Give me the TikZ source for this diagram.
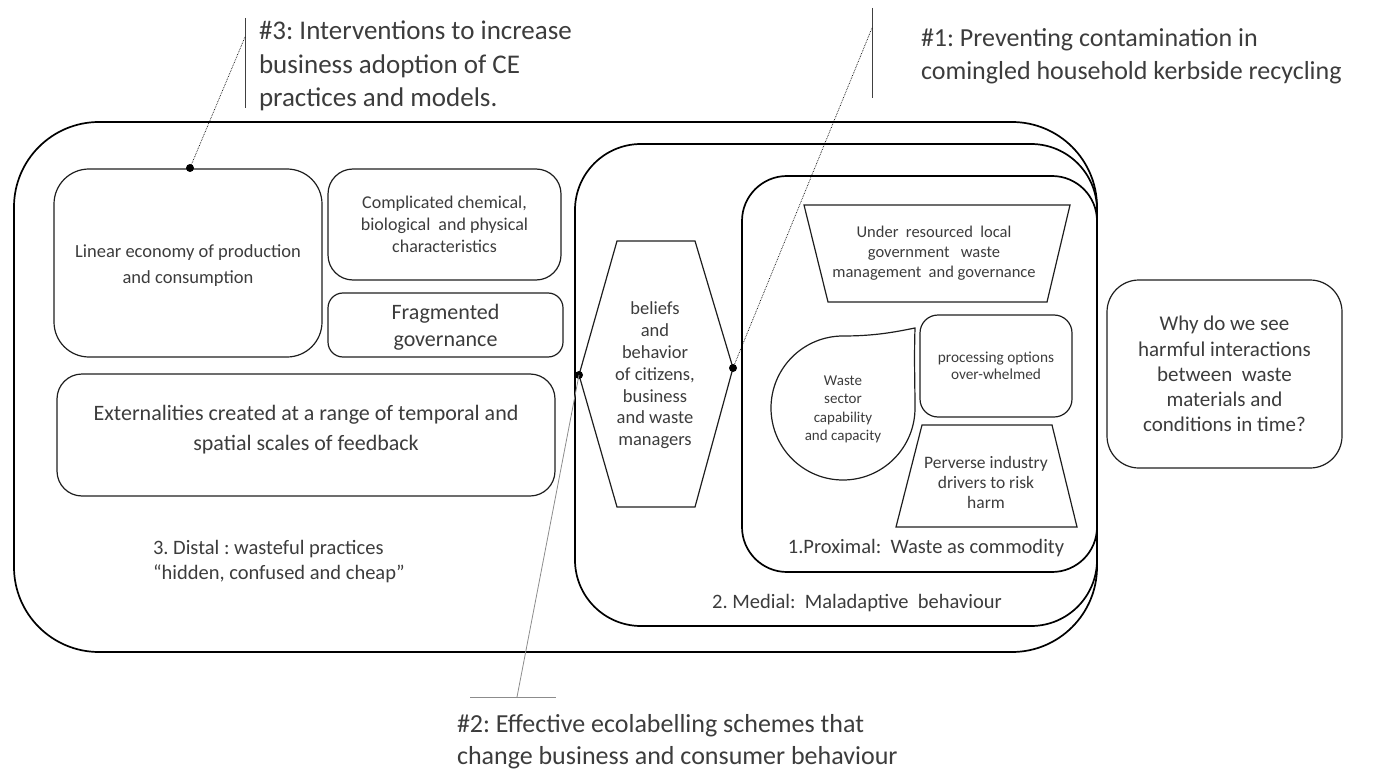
\documentclass[tikz,border=0pt]{standalone}
\usepackage{fontspec}
\setmainfont{Carlito}
\frenchspacing
\definecolor{txt}{RGB}{60,60,60}
\definecolor{edge}{RGB}{30,30,30}
\begin{document}
\begin{tikzpicture}[x=1pt,y=-1pt,
  every node/.style={text=txt, align=center, inner sep=0pt, outer sep=0pt},
  cont/.style={draw=black, line width=1.7pt},
  box/.style={draw=edge, line width=1.2pt},
  shapeline/.style={draw=edge, line width=1.2pt, line join=miter},
  dotm/.style={fill=black, circle, minimum size=8pt, inner sep=0pt},
  leadv/.style={draw=black!75, line width=1pt},
  leaddot/.style={draw=black, line width=0.7pt, densely dotted},
  leadgray/.style={draw=black!45, line width=0.8pt},
]
\useasboundingbox (0,0) rectangle (1378,778);

% containers
\node[cont, rounded corners=85pt, minimum width=1083pt, minimum height=530pt] (distal) at (555.5,387) {};
\node[cont, rounded corners=66pt, minimum width=522pt, minimum height=482pt] (medial) at (836,385) {};
\node[cont, rounded corners=45pt, minimum width=355pt, minimum height=396pt] (proximal) at (919.5,374) {};

% distal inner boxes
\node[box, rounded corners=35pt, minimum width=268pt, minimum height=188pt] (linear) at (188,263) {};
\node[font=\fontsize{18.5}{26}\selectfont] (lineart) at (188,266)
      {Linear economy of production\\and consumption};
\node[box, rounded corners=25pt, minimum width=233pt, minimum height=111pt,
      font=\fontsize{18}{22}\selectfont] (chem) at (444.5,224.5)
      {Complicated chemical,\\biological~ and physical\\characteristics};
\node[box, rounded corners=15pt, minimum width=235pt, minimum height=64pt] (frag) at (445.5,325) {};
\node[font=\fontsize{22}{27}\selectfont] (fragt) at (445.5,327)
      {Fragmented\\governance};
\node[box, rounded corners=25pt, minimum width=498pt, minimum height=122pt] (ext) at (306,435) {};
\node[font=\fontsize{22}{30}\selectfont] (extt) at (306,429.5)
      {Externalities created at a range of temporal and\\spatial scales of feedback};
\node[anchor=west, align=left, font=\fontsize{20.5}{25}\selectfont] (distlbl) at (153,561.5)
      {3. Distal : wasteful practices\\“hidden, confused and cheap”};

% medial hexagon
\coordinate (hexL) at (579,375);
\coordinate (hexR) at (733,368);
\draw[shapeline] (617,241) -- (695,241) -- (hexR) -- (695,507) -- (617,507) -- (hexL) -- cycle;
\node[font=\fontsize{18.5}{21.8}\selectfont] (beliefs) at (655,375.5)
      {beliefs\\and\\behavior\\of citizens,\\business\\and waste\\managers};
\node[font=\fontsize{20.5}{23}\selectfont] (medlbl) at (857,603) {2. Medial:~ Maladaptive~ behaviour};

% proximal contents
\draw[shapeline] (804,205) -- (1070,205) -- (1047,302) -- (828,302) -- cycle;
\node[font=\fontsize{16.5}{20}\selectfont] (under) at (934,253)
      {Under~ resourced~ local\\government~~ waste\\management~ and governance};
\draw[shapeline] (843,336) .. controls (875,336) and (895,332) .. (915,328)
      .. controls (914,360) and (915,385) .. (915,408)
      arc[start angle=0, end angle=-270, radius=72pt] -- cycle;
\node[font=\fontsize{15}{18.3}\selectfont] (wastes) at (843,409.5)
      {Waste\\sector\\capability\\and capacity};
\node[box, rounded corners=18pt, minimum width=152pt, minimum height=102pt,
      font=\fontsize{15.3}{17}\selectfont] (proc) at (996,366)
      {processing options\\over-whelmed};
\draw[shapeline] (922,425) -- (1052,425) -- (1077,527) -- (896,527) -- cycle;
\node[font=\fontsize{17.5}{20}\selectfont] (perverse) at (986,482)
      {Perverse industry\\drivers to risk\\harm};
\node[font=\fontsize{20.5}{23}\selectfont] (proxlbl) at (926,548) {1.Proximal:~ Waste as commodity};

% question box
\node[box, rounded corners=32pt, minimum width=235pt, minimum height=188pt,
      font=\fontsize{21}{25.2}\selectfont] (why) at (1224.5,374)
      {Why do we see\\harmful interactions\\between~ waste\\materials and\\conditions in time?};

% callouts
\node[anchor=west, align=left, font=\fontsize{27}{33.5}\selectfont] (c3) at (259,66)
      {\#3: Interventions to increase\\business adoption of CE\\practices and models.};
\node[anchor=west, align=left, font=\fontsize{26}{33.5}\selectfont] (c1) at (921,56)
      {\#1: Preventing contamination in\\comingled household kerbside recycling};
\node[anchor=west, align=left, font=\fontsize{26}{32}\selectfont] (c2) at (457,742)
      {\#2: Effective ecolabelling schemes that\\change business and consumer behaviour};

% leader lines
\coordinate (v3t) at (245,18); \coordinate (v3b) at (245,108); \coordinate (v3m) at (245,37);
\coordinate (v1t) at (872,8);  \coordinate (v1b) at (872,98);  \coordinate (v1m) at (872,28);
\coordinate (h2l) at (470,697); \coordinate (h2r) at (556,697); \coordinate (h2m) at (517,697);
\draw[leadv] (v3t) -- (v3b);
\draw[leadv] (v1t) -- (v1b);
\draw[leadgray] (h2l) -- (h2r);
\node[dotm] (d3) at (190,168) {};
\node[dotm] (dL) at (hexL) {};
\node[dotm] (dR) at (hexR) {};
\draw[leaddot] (v3m) -- (d3.center);
\draw[leaddot] (v1m) -- (dR.center);
\draw[leadgray] (h2m) -- (dL.center);
\end{tikzpicture}
\end{document}
